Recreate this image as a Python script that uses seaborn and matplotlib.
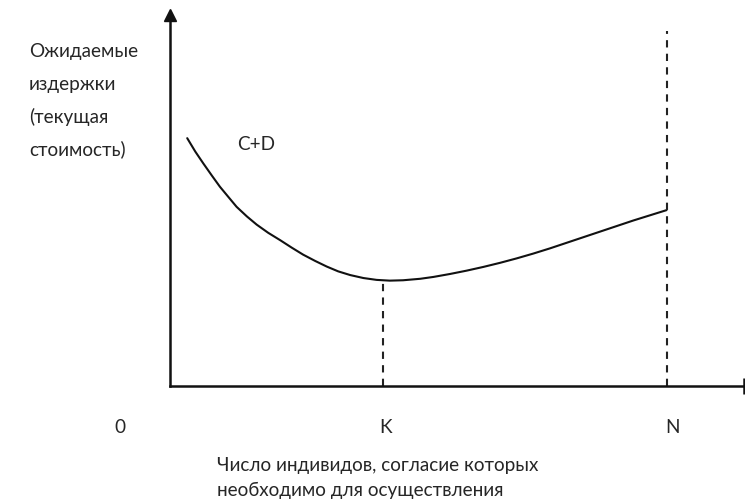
import numpy as np
import matplotlib
matplotlib.use('Agg')
import matplotlib.pyplot as plt
import seaborn as sns
import pandas as pd

sns.set_theme(style='white')
plt.rcParams['font.family'] = ['Lato', 'DejaVu Sans']

# curve C+D
curve_x = [3.0, 4.4, 5.8, 7.3, 8.7, 10.2, 11.6, 13.4, 15.1, 17.1, 19.2, 21.2,
           23.2, 25.3, 27.3, 29.3, 31.4, 33.7, 36.0, 38.3, 40.6, 43.6, 45.9,
           48.8, 51.7, 54.6, 57.5, 60.4, 63.3, 66.2, 69.1, 72.0, 74.9, 77.8,
           80.7, 83.6, 86.5]
curve_y = [66.8, 63.2, 60.0, 56.7, 53.7, 50.9, 48.3, 45.7, 43.5, 41.3, 39.3,
           37.3, 35.4, 33.7, 32.2, 30.9, 29.9, 29.1, 28.6, 28.4, 28.5, 28.9,
           29.4, 30.2, 31.1, 32.1, 33.2, 34.4, 35.7, 37.1, 38.6, 40.1, 41.6,
           43.1, 44.6, 46.0, 47.4]
k_pos = 37.1
k_level = 28.5
n_pos = 86.5
n_top = 95.7

y_label_lines = ['Ожидаемые', 'издержки', '(текущая', 'стоимость)']
x_label_lines = ['Число индивидов, согласие которых',
                 'необходимо для осуществления']
tick_names = ['0', 'K', 'N']

df = pd.DataFrame({'x': curve_x, 'y': curve_y})

fig = plt.figure(figsize=(7.45, 4.99), dpi=100)
ax = fig.add_axes([170 / 745, (499 - 386) / 499, 574 / 745, 371 / 499])

sns.lineplot(data=df, x='x', y='y', ax=ax, color='#111111', linewidth=1.5)

# dashed guide lines
ax.plot([k_pos, k_pos], [0, k_level], color='#222222', lw=1.5, ls=(0, (3.5, 3)))
ax.plot([n_pos, n_pos], [0, n_top], color='#222222', lw=1.5, ls=(0, (3.5, 3)),
        clip_on=False)

ax.set_xlim(0, 100)
ax.set_ylim(0, 100)
ax.set_xticks([])
ax.set_yticks([])
ax.set_xlabel('')
ax.set_ylabel('')
for s in ['top', 'right']:
    ax.spines[s].set_visible(False)
for s in ['left', 'bottom']:
    ax.spines[s].set_color('#111111')
    ax.spines[s].set_linewidth(1.8)

# arrow on y axis, end bar on x axis
ax.plot(0, 1, '^', color='#111111', markersize=8,
        transform=ax.transAxes, clip_on=False)
ax.plot(1, 0, '|', color='#111111', markersize=12, markeredgewidth=1.8,
        transform=ax.transAxes, clip_on=False)

fs = 13.6
ax.text(-8.7, -11.3, tick_names[0], ha='center', va='center', fontsize=fs)
ax.text(37.5, -11.3, tick_names[1], ha='center', va='center', fontsize=fs)
ax.text(87.6, -11.3, tick_names[2], ha='center', va='center', fontsize=fs)
ax.text(11.7, 65, 'C+D', ha='left', va='center', fontsize=fs)

for i, line in enumerate(y_label_lines):
    fig.text(29 / 745, 1 - (52 + 32.5 * i) / 499, line,
             ha='left', va='center', fontsize=fs)
for i, line in enumerate(x_label_lines):
    fig.text(217 / 745, 1 - (466 + 24.5 * i) / 499, line,
             ha='left', va='center', fontsize=fs)

fig.savefig('out.png', dpi=100)
